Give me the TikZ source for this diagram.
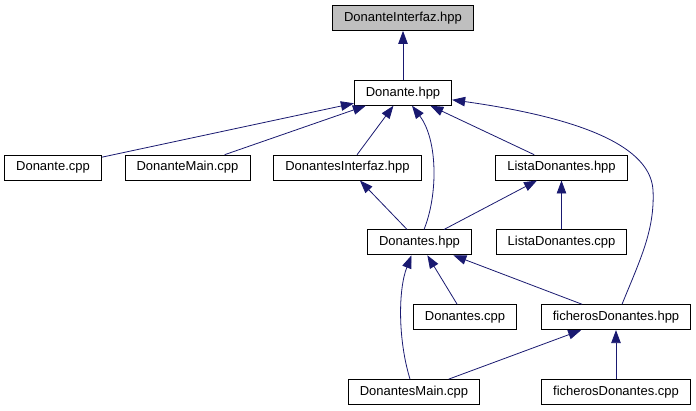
\documentclass[tikz,border=0pt]{standalone}
\usepackage{fontspec}
\setmainfont{Liberation Sans}
\usetikzlibrary{arrows.meta,positioning}
\definecolor{linkblue}{RGB}{25,25,112}
\definecolor{rootgray}{RGB}{191,191,191}
\tikzstyle{file} = [draw, line width=0.8pt, fill=white, minimum height=25pt, inner xsep=11.5pt, font=\fontsize{13}{15}\selectfont]

\begin{document}
\begin{tikzpicture}[x=1pt,y=-1pt,>={Triangle[length=13pt,width=9.5pt]},node distance=74.8pt]
  \useasboundingbox (0,0) rectangle (696,411);
  \node[file,fill=rootgray] (interfaz) at (403,18) {DonanteInterfaz.hpp};
  \node[file,below of=interfaz] (donante) {Donante.hpp};
  \node[file,below of=donante,xshift=-350pt] (donanteCpp) {Donante.cpp};
  \node[file,below of=donante,xshift=-215.5pt] (donanteMain) {DonanteMain.cpp};
  \node[file,below of=donante,xshift=-55.5pt] (donantesInterfaz) {DonantesInterfaz.hpp};
  \node[file,below of=donante,xshift=158.5pt] (listaHpp) {ListaDonantes.hpp};

  \node[file,below of=donantesInterfaz,xshift=72pt] (donantes) {Donantes.hpp};
  \node[file,below of=listaHpp] (listaCpp) {ListaDonantes.cpp};
  \node[file,below of=donantes,xshift=45.5pt] (donantesCpp) {Donantes.cpp};
  \node[file,below of=listaCpp,xshift=54.5pt] (ficherosHpp) {ficherosDonantes.hpp};
  \node[file,below of=donantesCpp,xshift=-51pt] (donantesMain) {DonantesMain.cpp};
  \node[file,below of=ficherosHpp] (ficherosCpp) {ficherosDonantes.cpp};

  \begin{scope}[every path/.style={draw,linkblue,line width=0.8pt}]
    \path[->] (donante) -- (interfaz);
    \path[->] (donanteCpp) -- (donante);
    \path[->] (donanteMain) -- (donante);
    \path[->] (donantesInterfaz) -- (donante);
    \path[->] (listaHpp) -- (donante);
    \path[->] ([xshift=4.5pt]donantes.north) .. controls (438,195) and (438,140) .. ([xshift=9pt]donante.south);
    \path[->] ([xshift=6pt]ficherosHpp.north) .. controls (640,260) and (655,230) .. (653,190)
      .. controls (650,140) and (560,115) .. ([yshift=-7pt]donante.east);
    \path[->] (donantes) -- (donantesInterfaz);
    \path[->] (donantes) -- (listaHpp);
    \path[->] (listaCpp) -- (listaHpp);
    \path[->] (donantesCpp) -- (donantes);
    \path[->] (ficherosHpp) -- (donantes);
    \path[->] ([xshift=-4pt]donantesMain.north) .. controls (398,340) and (398,290) .. ([xshift=-8pt]donantes.south);
    \path[->] (donantesMain) -- (ficherosHpp);
    \path[->] (ficherosCpp) -- (ficherosHpp);
  \end{scope}

\end{tikzpicture}
\end{document}
